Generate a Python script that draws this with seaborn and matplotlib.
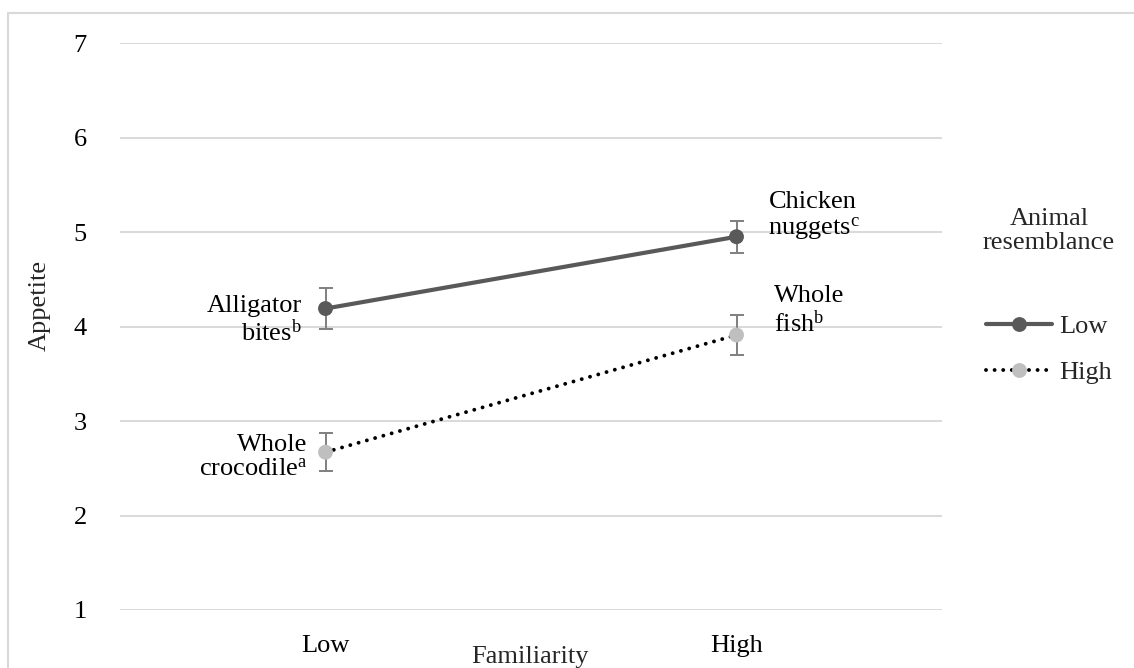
import matplotlib
matplotlib.use("Agg")
import matplotlib.pyplot as plt
from matplotlib.lines import Line2D
from matplotlib.patches import Rectangle
import seaborn as sns
import pandas as pd

# Cell means and standard errors of rated appetite
familiarity = ["Low", "High"]
resemblance = ["Low", "High"]
appetite_low_resemblance = [4.19, 4.95]
appetite_high_resemblance = [2.67, 3.91]
se_low_resemblance = [0.22, 0.17]
se_high_resemblance = [0.20, 0.21]
food_labels_low_resemblance = ["Alligator\nbites$^\\mathrm{b}$", "Chicken\nnuggets$^\\mathrm{c}$"]
food_labels_high_resemblance = ["Whole\ncrocodile$^\\mathrm{a}$", "Whole\nfish$^\\mathrm{b}$"]
y_ticks = [1, 2, 3, 4, 5, 6, 7]

df = pd.DataFrame({
    "Familiarity": familiarity * 2,
    "Resemblance": [resemblance[0]] * 2 + [resemblance[1]] * 2,
    "Appetite": appetite_low_resemblance + appetite_high_resemblance,
    "SE": se_low_resemblance + se_high_resemblance,
})

sns.set_theme(style="white")
plt.rcParams["font.family"] = ["Liberation Serif", "DejaVu Serif"]
plt.rcParams["mathtext.fontset"] = "custom"
plt.rcParams["mathtext.rm"] = "Liberation Serif"
plt.rcParams["mathtext.it"] = "Liberation Serif:italic"

FS = 19
W, H = 1134, 668
fig = plt.figure(figsize=(W / 100, H / 100), dpi=100)
ax = fig.add_axes([120 / W, 1 - 610 / H, 822 / W, 567 / H])

dark = "#595959"
light = "#bfbfbf"
err_col = "#7f7f7f"

styles = {
    "Low": dict(line=dark, marker=dark, ls="-", lw=3.0),
    "High": dict(line="black", marker=light, ls=(0, (0.01, 2.2)), lw=2.8),
}

for res in resemblance:
    sub = df[df["Resemblance"] == res]
    st = styles[res]
    ax.errorbar(sub["Familiarity"], sub["Appetite"], yerr=sub["SE"], fmt="none",
                ecolor=err_col, elinewidth=1.4, capsize=5, capthick=1.4, zorder=2)
    sns.lineplot(data=sub, x="Familiarity", y="Appetite", ax=ax, color=st["line"],
                 lw=st["lw"], linestyle=st["ls"], dash_capstyle="round",
                 sort=False, legend=False, zorder=3)
    sns.scatterplot(data=sub, x="Familiarity", y="Appetite", ax=ax, color=st["marker"],
                    s=115, edgecolor="none", legend=False, zorder=4)

# Food labels beside each cell mean: (dx, dy) offsets in pixels
label_offsets = {
    ("Low", "Low"): (-24, -12), ("Low", "High"): (-18, -5),
    ("High", "Low"): (32, 20), ("High", "High"): (37, 24),
}
for i, fam in enumerate(familiarity):
    for res, vals, labels in (("Low", appetite_low_resemblance, food_labels_low_resemblance),
                              ("High", appetite_high_resemblance, food_labels_high_resemblance)):
        dx, dy = label_offsets[(fam, res)]
        side = "right" if i == 0 else "left"
        ax.annotate(labels[i], (fam, vals[i]), xytext=(dx, dy), textcoords="offset pixels",
                    ha=side, va="center", fontsize=FS, multialignment=side,
                    linespacing=1.12, color="black")

ax.set_xlim(-0.5, 1.5)
ax.set_ylim(1, 7)
ax.set_yticks(y_ticks)
ax.yaxis.grid(True, color="#d9d9d9", lw=1.4)
ax.xaxis.grid(False)
for s in ax.spines.values():
    s.set_visible(False)
ax.tick_params(axis="both", length=0, labelsize=FS, colors="black")
ax.tick_params(axis="y", pad=24)
ax.tick_params(axis="x", pad=18)
ax.set_xlabel("")
ax.set_ylabel("")
fig.text(530 / W, 1 - 657 / H, "Familiarity", ha="center", va="center", fontsize=FS)
fig.text(40 / W, 1 - 305 / H, "Appetite", ha="center", va="center", rotation=90, fontsize=FS)

# Legend
handles = [
    Line2D([], [], color=dark, lw=3.0, marker="o", markersize=10.7,
           markerfacecolor=dark, markeredgecolor="none"),
    Line2D([], [], color="black", lw=2.8, linestyle=(0, (0.01, 2.2)), dash_capstyle="round",
           marker="o", markersize=10.7, markerfacecolor=light, markeredgecolor="none"),
]
leg = fig.legend(handles, resemblance, title="Animal\nresemblance", loc="upper left",
                 bbox_to_anchor=(983 / W, 1 - 208 / H), frameon=False, fontsize=FS,
                 title_fontsize=FS, handlelength=2.5, handletextpad=0.3, labelspacing=0.85,
                 borderpad=0, borderaxespad=0)
leg.get_title().set_multialignment("center")
leg.get_title().set_linespacing(1.1)
leg._legend_box.sep = 44

# Outer frame
fig.patches.append(Rectangle((8 / W, -0.1), 1.2, 1 - 13 / H + 0.1, transform=fig.transFigure,
                             fill=False, edgecolor="#d9d9d9", lw=1.5))

fig.savefig("out.png", dpi=100)
